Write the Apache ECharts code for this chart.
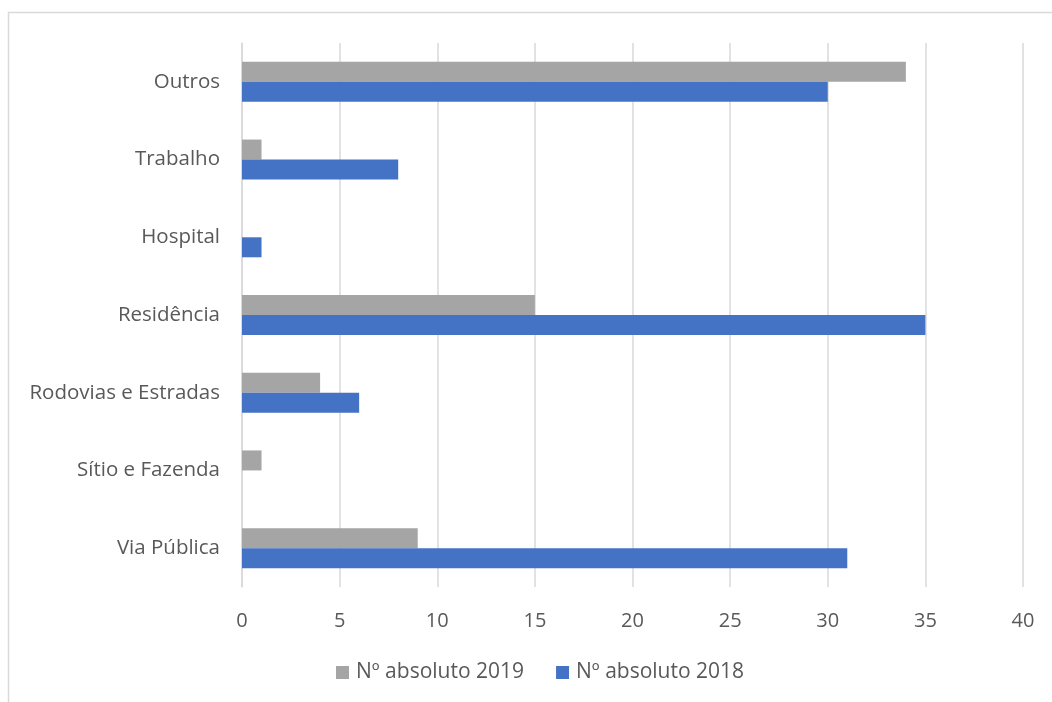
<!DOCTYPE html>
<html>
<head>
<meta charset="utf-8">
<script src="https://cdn.jsdelivr.net/npm/echarts@6/dist/echarts.min.js"></script>
<style>
  html, body { margin: 0; padding: 0; background: #fff; }
  #chart { width: 1052px; height: 702px; }
</style>
</head>
<body>
<div id="chart"></div>
<script>
// Categories listed bottom to top along the vertical axis
const categories = ['Via Pública', 'Sítio e Fazenda', 'Rodovias e Estradas', 'Residência', 'Hospital', 'Trabalho', 'Outros'];
const values2019 = [9, 1, 4, 15, 0, 1, 34];
const values2018 = [31, 0, 6, 35, 1, 8, 30];
const name2019 = 'Nº absoluto 2019';
const name2018 = 'Nº absoluto 2018';

const textColor = '#595959';
const fontFamily = '"Open Sans", "Noto Sans", sans-serif';

const chart = echarts.init(document.getElementById('chart'));
chart.setOption({
  animation: false,
  textStyle: { fontFamily: fontFamily },
  graphic: [{
    type: 'rect',
    shape: { x: 8.5, y: 12.5, width: 1100, height: 800 },
    style: { fill: 'none', stroke: '#d9d9d9', lineWidth: 1.5 },
    silent: true
  }],
  grid: { left: 242, right: 29, top: 43, bottom: 115, containLabel: false },
  legend: {
    data: [name2019, name2018],
    bottom: 14,
    left: 331,
    itemWidth: 13,
    itemHeight: 13,
    itemGap: 32,
    icon: 'rect',
    textStyle: { color: textColor, fontSize: 21, fontFamily: fontFamily, padding: [0, 0, 0, 2] }
  },
  xAxis: {
    type: 'value',
    min: 0,
    max: 40,
    interval: 5,
    axisLine: { show: false },
    axisTick: { show: false },
    axisLabel: { color: textColor, fontSize: 20, margin: 24, fontFamily: fontFamily },
    splitLine: { show: true, lineStyle: { color: '#d9d9d9', width: 1.5 } }
  },
  yAxis: {
    type: 'category',
    data: categories,
    axisLine: { show: true, lineStyle: { color: '#d9d9d9', width: 1.5 } },
    axisTick: { show: false },
    axisLabel: { color: textColor, fontSize: 20.5, margin: 22, fontFamily: fontFamily }
  },
  series: [
    {
      name: name2019,
      type: 'bar',
      data: values2019,
      barWidth: 20,
      barGap: '0%',
      itemStyle: { color: '#A5A5A5' }
    },
    {
      name: name2018,
      type: 'bar',
      data: values2018,
      barWidth: 20,
      barGap: '0%',
      itemStyle: { color: '#4472C4' }
    }
  ]
});
</script>
</body>
</html>
